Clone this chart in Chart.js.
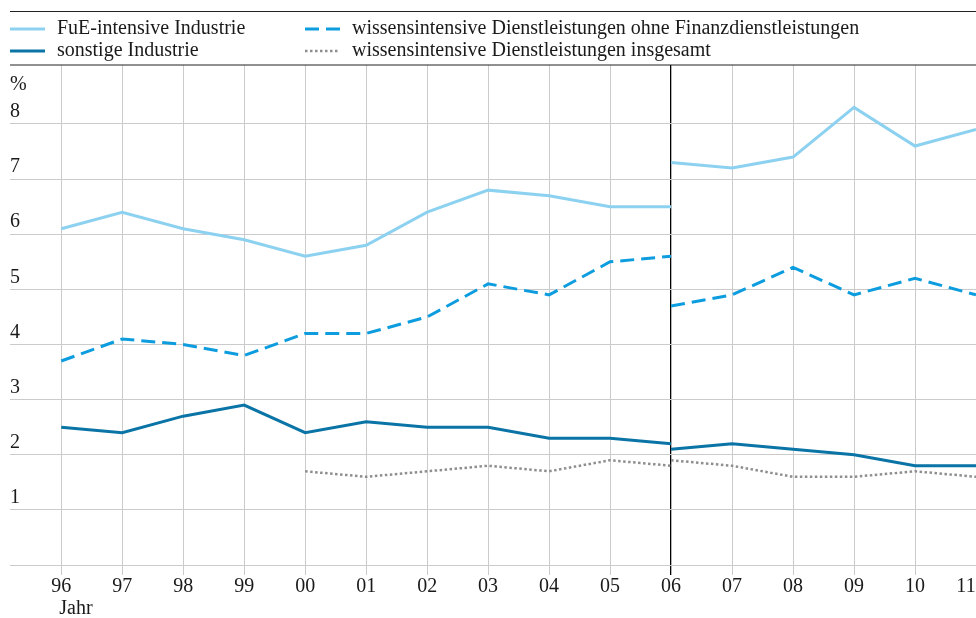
<!DOCTYPE html>
<html>
<head>
<meta charset="utf-8">
<script src="https://cdn.jsdelivr.net/npm/chart.js@4/dist/chart.umd.min.js"></script>
<style>
  html, body { margin: 0; padding: 0; background: #fff; }
  #wrap { width: 976px; height: 618px; position: relative; }
</style>
</head>
<body>
<div id="wrap"><canvas id="chart"></canvas></div>
<script>
// Jahre (x-Achse), Bruch bei 06: links alte, rechts neue Abgrenzung
const years = ['96', '97', '98', '99', '00', '01', '02', '03', '04', '05', '06', '07', '08', '09', '10', '11'];
const breakIndex = 10;

// 96 .. 06
const fueLeft = [6.1, 6.4, 6.1, 5.9, 5.6, 5.8, 6.4, 6.8, 6.7, 6.5, 6.5];
const wdoLeft = [3.7, 4.1, 4.0, 3.8, 4.2, 4.2, 4.5, 5.1, 4.9, 5.5, 5.6];
const sonstLeft = [2.5, 2.4, 2.7, 2.9, 2.4, 2.6, 2.5, 2.5, 2.3, 2.3, 2.2];
const wdiLeft = [null, null, null, null, 1.7, 1.6, 1.7, 1.8, 1.7, 1.9, 1.8];

// 06 .. 11
const fueRight = [7.3, 7.2, 7.4, 8.3, 7.6, 7.9];
const wdoRight = [4.7, 4.9, 5.4, 4.9, 5.2, 4.9];
const sonstRight = [2.1, 2.2, 2.1, 2.0, 1.8, 1.8];
const wdiRight = [1.9, 1.8, 1.6, 1.6, 1.7, 1.6];

const yTicks = [0, 1, 2, 3, 4, 5, 6, 7, 8];

const FONT = "'Liberation Serif', 'Times New Roman', serif";
const TEXT = '#1a1a1a';
const GRID = '#cbcbcb';

function joinParts(left, right) {
  const pts = left.map((v, i) => ({ x: i, y: v }));
  pts.push({ x: breakIndex, y: null }); // Bruch in der Zeitreihe
  right.forEach((v, i) => pts.push({ x: breakIndex + i, y: v }));
  return pts;
}

const series = [
  { label: 'FuE-intensive Industrie', left: fueLeft, right: fueRight, color: '#8dd1f0', dash: [], width: 3 },
  { label: 'sonstige Industrie', left: sonstLeft, right: sonstRight, color: '#0a74a6', dash: [], width: 3 },
  { label: 'wissensintensive Dienstleistungen ohne Finanzdienstleistungen', left: wdoLeft, right: wdoRight, color: '#0d9ddf', dash: [14, 7], width: 3 },
  { label: 'wissensintensive Dienstleistungen insgesamt', left: wdiLeft, right: wdiRight, color: '#8e8e8e', dash: [2.5, 2.5], width: 2.5 }
];

// Legende (2 Spalten) und Rahmenlinien
const legendPlugin = {
  id: 'legendBox',
  afterDraw(chart) {
    const { ctx, chartArea } = chart;
    ctx.save();
    ctx.strokeStyle = '#222';
    ctx.lineWidth = 1.2;
    ctx.beginPath();
    ctx.moveTo(10, 11.5); ctx.lineTo(chart.width, 11.5);
    ctx.moveTo(10, chartArea.top); ctx.lineTo(chart.width, chartArea.top);
    ctx.stroke();

    const cols = [10, 305];
    const rows = [29, 51];
    ctx.font = '20px ' + FONT;
    ctx.textBaseline = 'middle';
    ctx.fillStyle = TEXT;
    series.forEach((s, i) => {
      const x = cols[Math.floor(i / 2)];
      const y = rows[i % 2];
      ctx.strokeStyle = s.color;
      ctx.lineWidth = s.width;
      ctx.setLineDash(s.dash);
      ctx.beginPath();
      ctx.moveTo(x, y); ctx.lineTo(x + 35, y);
      ctx.stroke();
      ctx.setLineDash([]);
      ctx.fillText(s.label, x + 47, y);
    });

    // Achsenbeschriftung "Jahr" unter dem ersten Jahr
    const xs = chart.scales.x;
    ctx.textAlign = 'left';
    ctx.fillText('Jahr', xs.getPixelForValue(0) - 2, 609);
    ctx.restore();
  }
};

new Chart(document.getElementById('chart'), {
  type: 'line',
  data: {
    datasets: series.map(s => ({
      label: s.label,
      data: joinParts(s.left, s.right),
      borderColor: s.color,
      borderWidth: s.width,
      borderDash: s.dash,
      pointRadius: 0,
      tension: 0,
      spanGaps: false
    }))
  },
  options: {
    responsive: true,
    maintainAspectRatio: false,
    animation: false,
    layout: { padding: { top: 65, left: 10, right: 0, bottom: 19 } },
    plugins: {
      legend: { display: false },
      tooltip: { enabled: false }
    },
    scales: {
      x: {
        type: 'linear',
        min: -0.84,
        max: 15,
        afterBuildTicks: axis => { axis.ticks = years.map((_, i) => ({ value: i })); },
        afterFit: axis => { axis.paddingLeft = 0; axis.paddingRight = 0; },
        border: { display: false },
        grid: {
          color: ctx => (ctx.tick && ctx.tick.value === breakIndex ? '#000' : GRID),
          lineWidth: ctx => (ctx.tick && ctx.tick.value === breakIndex ? 1.3 : 1),
          tickLength: 10,
          drawOnChartArea: true
        },
        ticks: {
          padding: 0,
          maxRotation: 0,
          autoSkip: false,
          color: TEXT,
          font: { family: FONT, size: 20 },
          // letztes Label am Rand nach links rücken (Leerzeichen verschieben die Mitte)
          callback: v => (v === years.length - 1 ? years[v] + '    ' : (years[v] ?? ''))
        }
      },
      y: {
        min: 0,
        max: 9.07,
        afterBuildTicks: axis => {
          axis.ticks = yTicks.map(v => ({ value: v })).concat([{ value: 8.5 }]);
        },
        afterFit: axis => { axis.paddingTop = 0; axis.paddingBottom = 0; },
        border: { display: false },
        grid: {
          color: ctx => (ctx.tick && ctx.tick.value === 8.5 ? 'rgba(0,0,0,0)' : GRID),
          drawTicks: false
        },
        ticks: {
          mirror: true,
          padding: 0,
          labelOffset: -12,
          color: TEXT,
          font: { family: FONT, size: 20 },
          callback: v => (v === 8.5 ? '%' : (v === 0 ? '' : String(v)))
        }
      }
    }
  },
  plugins: [legendPlugin]
});
</script>
</body>
</html>
